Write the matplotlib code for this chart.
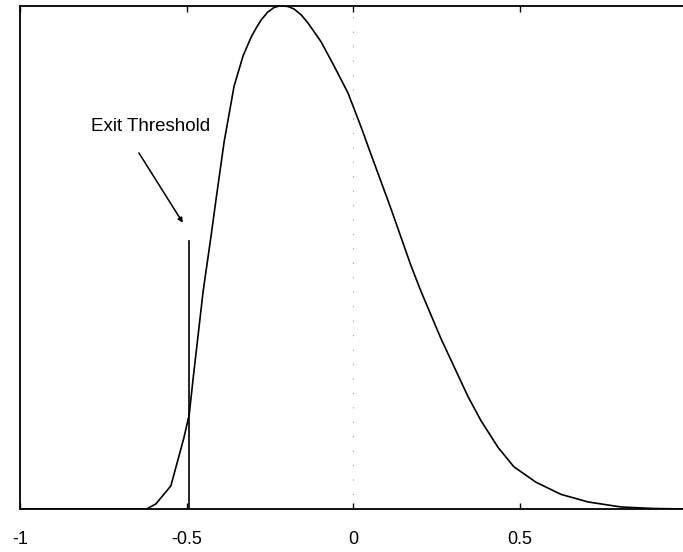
import numpy as np
import matplotlib.pyplot as plt

# density curve read along the x axis
x = [-1.0, -0.62, -0.592, -0.547, -0.508, -0.492, -0.480, -0.450, -0.426,
     -0.411, -0.387, -0.357, -0.330, -0.306, -0.290, -0.276, -0.256, -0.237,
     -0.222, -0.210, -0.195, -0.177, -0.155, -0.135, -0.096, -0.057, -0.015,
     0.024, 0.048, 0.114, 0.174, 0.204, 0.264, 0.345, 0.384, 0.435, 0.483,
     0.550, 0.625, 0.706, 0.805, 0.904, 1.0]
y = [0.0, 0.0, 0.010, 0.046, 0.141, 0.187, 0.260, 0.433, 0.544,
     0.617, 0.730, 0.841, 0.901, 0.938, 0.957, 0.972, 0.988, 0.997,
     1.0, 1.0, 0.999, 0.994, 0.982, 0.966, 0.929, 0.881, 0.827,
     0.760, 0.716, 0.597, 0.484, 0.433, 0.339, 0.224, 0.176, 0.123, 0.084,
     0.053, 0.029, 0.014, 0.004, 0.001, 0.0]

threshold = -0.492
threshold_height = 0.533
xticks = [-1, -0.5, 0, 0.5]
xticklabels = ['-1', '-0.5', '0', '0.5']

fig = plt.figure(figsize=(6.83, 5.52), dpi=100)
ax = fig.add_axes([20 / 683, 1 - 509 / 552, 666 / 683, 503 / 552])

ax.plot(x, y, color='black', linewidth=1.2)
ax.plot([threshold, threshold], [0, threshold_height], color='black', linewidth=1.2)
ax.axvline(0, color='0.6', linewidth=0.8, linestyle=(0, (1, 12)))

ax.text(-0.607, 0.761, 'Exit Threshold', ha='center', va='center',
        fontsize=13.5, family='Liberation Sans')
ax.annotate('', xy=(-0.511, 0.569), xytext=(-0.643, 0.708),
            arrowprops=dict(arrowstyle='-|>', color='black', lw=1.1,
                            mutation_scale=7, shrinkA=0, shrinkB=0))

ax.set_xlim(-1, 1)
ax.set_ylim(0, 1)
ax.set_xticks(xticks)
ax.set_xticklabels(xticklabels, family='Liberation Sans', fontsize=13)
ax.set_yticks([])
ax.tick_params(axis='x', direction='in', top=True, length=4, width=1, pad=16)
for s in ax.spines.values():
    s.set_linewidth(1.3)

fig.savefig('out.png', dpi=100)
